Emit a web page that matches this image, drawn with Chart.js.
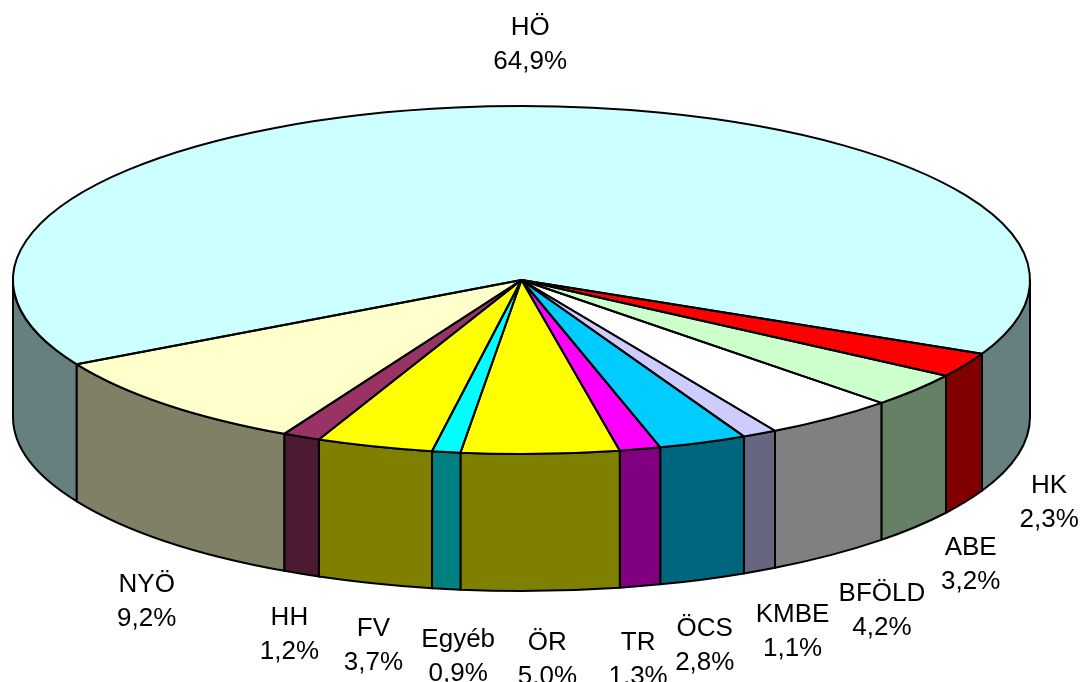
<!DOCTYPE html>
<html>
<head>
<meta charset="utf-8">
<title>Megoszlás</title>
<style>
    html, body { margin: 0; padding: 0; background: #fff; overflow: hidden; }
    canvas { display: block; }
</style>
<script src="https://cdn.jsdelivr.net/npm/chart.js@4/dist/chart.umd.min.js"></script>
</head>
<body>
<canvas id="pie3d" width="1082" height="682"></canvas>
<script>
const categories = ['HÖ', 'HK', 'ABE', 'BFÖLD', 'KMBE', 'ÖCS', 'TR', 'ÖR', 'Egyéb', 'FV', 'HH', 'NYÖ'];
const shares = [64.9, 2.3, 3.2, 4.2, 1.1, 2.8, 1.3, 5.0, 0.9, 3.7, 1.2, 9.2];
const topColors = ['#CCFFFF', '#FF0000', '#CCFFCC', '#FFFFFF', '#CCCCFF', '#00CCFF', '#FF00FF', '#FFFF00', '#00FFFF', '#FFFF00', '#993366', '#FFFFCC'];
const wallColors = ['#668080', '#800000', '#668066', '#808080', '#666680', '#006680', '#800080', '#808000', '#008080', '#808000', '#4D1A33', '#808066'];

// label nudges from the rim point of each slice
const labelNudges = [[26, -61], [84, 1], [55, 38], [51, 56], [33, 61], [2, 66], [-2, 74], [7, 69], [12, 68], [-1, 62], [-12, 61], [-19, 61]];

const SQUASH = 0.342;    // ellipse height / width
const DEPTH = 137;       // wall height in px
const LINE = 2;
const LINE_GAP = 34;     // between name and percentage
const TWO_PI = Math.PI * 2;

// Part of a slice that faces the viewer, i.e. angle within 0..180 deg (canvas angles, y down)
function frontSpans(start, end) {
    const spans = [];
    for (const shift of [-TWO_PI, 0, TWO_PI]) {
        const a = Math.max(start, shift);
        const b = Math.min(end, shift + Math.PI);
        if (b > a) spans.push([a, b]);
    }
    return spans;
}

const pie3d = {
    id: 'pie3d',
    beforeDatasetDraw(chart, args) {
        const ctx = chart.ctx;
        const arcs = args.meta.data;

        // 1. side walls, under the top face
        ctx.save();
        ctx.lineWidth = LINE;
        ctx.strokeStyle = '#000';
        ctx.lineJoin = 'round';
        arcs.forEach((arc, i) => {
            const p = arc.getProps(['x', 'y', 'startAngle', 'endAngle', 'outerRadius']);
            const ry = p.outerRadius * SQUASH;
            frontSpans(p.startAngle, p.endAngle).forEach(([a, b]) => {
                ctx.beginPath();
                ctx.ellipse(p.x, p.y, p.outerRadius, ry, 0, a, b);
                ctx.lineTo(p.x + p.outerRadius * Math.cos(b), p.y + ry * Math.sin(b) + DEPTH);
                ctx.ellipse(p.x, p.y + DEPTH, p.outerRadius, ry, 0, b, a, true);
                ctx.closePath();
                ctx.fillStyle = wallColors[i];
                ctx.fill();
                ctx.stroke();
            });
        });
        ctx.restore();

        // 2. squash the top face the library is about to draw
        const c = arcs[0];
        ctx.save();
        ctx.translate(c.x, c.y);
        ctx.scale(1, SQUASH);
        ctx.translate(-c.x, -c.y);
    },
    afterDatasetDraw(chart, args) {
        const ctx = chart.ctx;
        ctx.restore();

        // outlines after the restore so the pen stays round
        ctx.save();
        ctx.lineWidth = LINE;
        ctx.strokeStyle = '#000';
        ctx.lineJoin = 'round';
        args.meta.data.forEach((arc) => {
            const p = arc.getProps(['x', 'y', 'startAngle', 'endAngle', 'outerRadius']);
            ctx.beginPath();
            ctx.moveTo(p.x, p.y);
            ctx.ellipse(p.x, p.y, p.outerRadius, p.outerRadius * SQUASH, 0, p.startAngle, p.endAngle);
            ctx.closePath();
            ctx.stroke();
        });
        ctx.restore();
    },
    afterDraw(chart) {
        const ctx = chart.ctx;
        const arcs = chart.getDatasetMeta(0).data;
        ctx.save();
        ctx.font = '26px "Liberation Sans", Arial, sans-serif';
        ctx.fillStyle = '#000';
        ctx.textAlign = 'center';
        ctx.textBaseline = 'middle';
        arcs.forEach((arc, i) => {
            const p = arc.getProps(['x', 'y', 'startAngle', 'endAngle', 'outerRadius']);
            const mid = (p.startAngle + p.endAngle) / 2;
            const sin = Math.sin(mid);
            const x = p.x + p.outerRadius * Math.cos(mid) + labelNudges[i][0];
            const y = p.y + p.outerRadius * SQUASH * sin + (sin > 0 ? DEPTH : 0) + labelNudges[i][1];
            const pct = shares[i].toFixed(1).replace('.', ',') + '%';
            ctx.fillText(categories[i], x, y - LINE_GAP / 2);
            ctx.fillText(pct, x, y + LINE_GAP / 2);
        });
        ctx.restore();
    }
};

new Chart(document.getElementById('pie3d').getContext('2d'), {
    type: 'pie',
    data: {
        labels: categories,
        datasets: [{
            data: shares,
            backgroundColor: topColors,
            borderWidth: 0,
            clip: false
        }]
    },
    options: {
        responsive: false,
        animation: false,
        rotation: 241,
        radius: 508.5,
        layout: { padding: { right: 39, bottom: 122 } },
        plugins: {
            legend: { display: false },
            tooltip: { enabled: false }
        }
    },
    plugins: [pie3d]
});
</script>
</body>
</html>
